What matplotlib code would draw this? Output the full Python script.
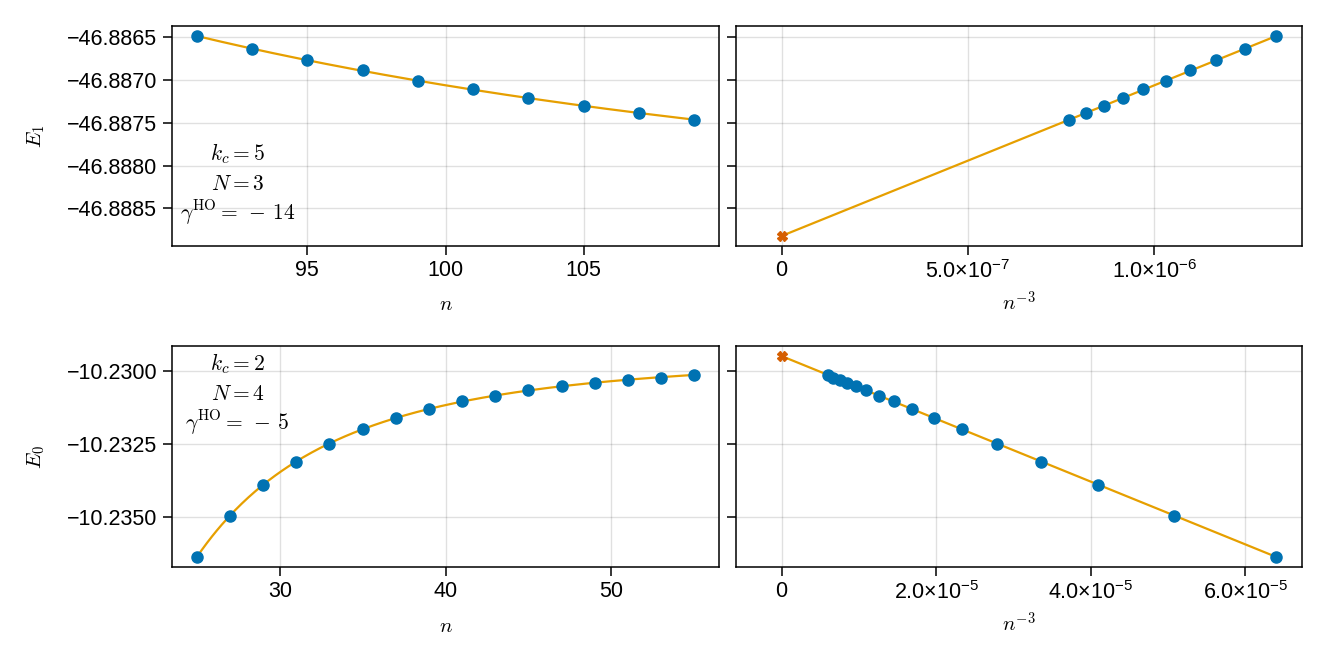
import numpy as np
import matplotlib
matplotlib.use("Agg")
import matplotlib.pyplot as plt
from matplotlib.ticker import MultipleLocator, FuncFormatter, FixedLocator, FixedFormatter

plt.rcParams['font.family'] = ['Liberation Sans', 'DejaVu Sans']
plt.rcParams['mathtext.fontset'] = 'cm'

BLUE = '#0072B2'
ORANGE = '#E69F00'
RED = '#D55E00'

# E_1, k_c = 5, N = 3, gamma^HO = -14
n_top = np.array([91, 93, 95, 97, 99, 101, 103, 105, 107, 109])
E_top = np.array([-46.88649, -46.88664, -46.88677, -46.88689, -46.88701,
                  -46.88711, -46.88721, -46.88730, -46.88739, -46.88747])

# E_0, k_c = 2, N = 4, gamma^HO = -5
n_bot = np.array([25, 27, 29, 31, 33, 35, 37, 39, 41, 43, 45, 47, 49, 51, 53, 55])
E_bot = np.array([-10.23637, -10.23497, -10.23391, -10.23311, -10.23249, -10.23198,
                  -10.23160, -10.23131, -10.23104, -10.23084, -10.23065, -10.23050,
                  -10.23040, -10.23030, -10.23022, -10.23014])

top_ticks_right = [0, 5e-7, 1e-6]
top_labels_right = ['0', r'$\mathregular{5.0{\times}10^{-7}}$', r'$\mathregular{1.0{\times}10^{-6}}$']
bot_ticks_right = [0, 2e-5, 4e-5, 6e-5]
bot_labels_right = ['0', r'$\mathregular{2.0{\times}10^{-5}}$', r'$\mathregular{4.0{\times}10^{-5}}$',
                    r'$\mathregular{6.0{\times}10^{-5}}$']

fig = plt.figure(figsize=(13.29, 6.64), dpi=100)
W, H = 1329, 664

def box(x0, x1, y0, y1):
    return [x0 / W, 1 - y1 / H, (x1 - x0) / W, (y1 - y0) / H]

ax_tl = fig.add_axes(box(172, 719, 26, 246))
ax_tr = fig.add_axes(box(736, 1302, 26, 246), sharey=ax_tl)
ax_bl = fig.add_axes(box(172, 719, 346, 567))
ax_br = fig.add_axes(box(736, 1302, 346, 567), sharey=ax_bl)

minus_fmt = FuncFormatter(lambda v, p: f'{v:.4f}'.replace('-', '\u2212'))


def panel(ax_l, ax_r, n, E, ylabel, ystep, rticks, rlabels, txt, txt_y):
    x = n.astype(float) ** -3
    slope, icpt = np.polyfit(x, E, 1)

    nf = np.linspace(n.min(), n.max(), 300)
    ax_l.plot(nf, icpt + slope * nf ** -3, color=ORANGE, lw=1.6, zorder=2)
    ax_l.plot(n, E, 'o', color=BLUE, ms=8, zorder=3)

    xf = np.array([0, x.max()])
    ax_r.plot(xf, icpt + slope * xf, color=ORANGE, lw=1.6, zorder=2)
    ax_r.plot(x, E, 'o', color=BLUE, ms=8, zorder=3)
    ax_r.plot([0], [icpt], 'X', color=RED, ms=7, zorder=4)

    # right panel limits as in the original (extra room on the left)
    span = 1.04 * x.max()
    ax_r.set_xlim(-0.04 * x.max() - 0.05 * span, x.max() + 0.05 * span)

    for ax in (ax_l, ax_r):
        ax.grid(True, color='black', alpha=0.12, lw=1.0)
        ax.set_axisbelow(True)
        ax.tick_params(direction='out', length=6.2, width=1.1, labelsize=15.5)
        ax.tick_params(axis='x', pad=4)
        ax.tick_params(axis='y', pad=4.5)
        for s in ax.spines.values():
            s.set_linewidth(1.1)

    ax_l.yaxis.set_major_locator(MultipleLocator(ystep))
    ax_l.yaxis.set_major_formatter(minus_fmt)
    ax_l.xaxis.set_major_locator(MultipleLocator(5 if n.max() > 80 else 10))
    ax_r.tick_params(labelleft=False)
    ax_r.xaxis.set_major_locator(FixedLocator(rticks))
    ax_r.xaxis.set_major_formatter(FixedFormatter(rlabels))

    ax_l.set_xlabel('$n$', fontsize=15)
    ax_r.set_xlabel('$n^{-3}$', fontsize=15)
    ax_l.set_ylabel(ylabel, fontsize=15)
    ax_l.yaxis.set_label_coords(-0.228, 0.5)
    for ax in (ax_l, ax_r):
        ax.xaxis.label.set_va('baseline')
        ax.xaxis.set_label_coords(0.5, -0.293)

    for line, dy in zip(txt, (0.135, 0, -0.135)):
        ax_l.text(0.12, txt_y + dy, line, transform=ax_l.transAxes,
                  ha='center', va='baseline', fontsize=15.5)


panel(ax_tl, ax_tr, n_top, E_top, '$E_1$', 0.0005, top_ticks_right, top_labels_right,
      ['$k_c = 5$', '$N = 3$', r'$\gamma^{\mathrm{HO}} =\,-\:14$'], 0.2545)
panel(ax_bl, ax_br, n_bot, E_bot, '$E_0$', 0.0025, bot_ticks_right, bot_labels_right,
      ['$k_c = 2$', '$N = 4$', r'$\gamma^{\mathrm{HO}} =\,-\:5$'], 0.7557)

fig.savefig('out.png', dpi=100)
